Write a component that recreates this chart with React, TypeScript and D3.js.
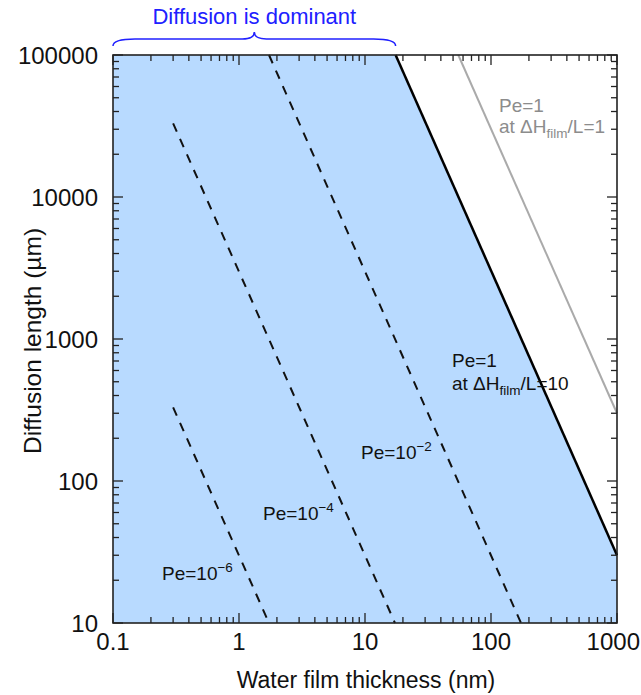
import React from "react";
import * as d3 from "d3";

// ---- data ----
const xTickValues = [0.1, 1, 10, 100, 1000];
const xTickLabels = ["0.1", "1", "10", "100", "1000"];
const yTickValues = [10, 100, 1000, 10000, 100000];
const yTickLabels = ["10", "100", "1000", "10000", "100000"];

// Pe = 1 at ΔHfilm/L = 10 (boundary of shaded region)
const boundaryH = [17.5, 1000];
const boundaryL = [100000, 30];
// Pe = 1 at ΔHfilm/L = 1 (grey)
const refH = [55, 1000];
const refL = [100000, 300];
// dashed Pe lines
const peExponents = ["−2", "−4", "−6"];
const peH = [
  [1.73, 173],
  [0.3, 17.3],
  [0.3, 1.73],
];
const peL = [
  [100000, 10],
  [33000, 10],
  [330, 10],
];

const W = 641;
const H = 695;
const plotLeft = 113;
const plotRight = 617;
const plotTop = 55;
const plotBottom = 623;
const FONT = "'Liberation Sans', Arial, Helvetica, sans-serif";

export default function App() {
  const x = d3.scaleLog().domain([0.1, 1000]).range([plotLeft, plotRight]);
  const y = d3.scaleLog().domain([10, 100000]).range([plotBottom, plotTop]);
  const line = d3
    .line<[number, number]>()
    .x((d) => x(d[0]))
    .y((d) => y(d[1]));

  const xd = x.domain();
  const yd = y.domain();
  const fillPts: [number, number][] = [
    [xd[0], yd[1]],
    [boundaryH[0], boundaryL[0]],
    [boundaryH[1], boundaryL[1]],
    [xd[1], yd[0]],
    [xd[0], yd[0]],
  ];

  const minorX: number[] = [];
  for (let i = 0; i < xTickValues.length - 1; i++)
    for (let k = 2; k <= 9; k++) minorX.push(xTickValues[i] * k);
  const minorY: number[] = [];
  for (let i = 0; i < yTickValues.length - 1; i++)
    for (let k = 2; k <= 9; k++) minorY.push(yTickValues[i] * k);

  const MAJ = 10;
  const MIN = 6;
  const TICK_FS = 24;

  const bx0 = x(xd[0]);
  const bx1 = x(boundaryH[0]);
  const bm = (bx0 + bx1) / 2;
  const yEnd = 46,
    yLine = 39,
    yTip = 32;
  const brace = `M${bx0},${yEnd} Q${bx0},${yLine} ${bx0 + 22},${yLine} L${bm - 12},${yLine} Q${bm},${yLine} ${bm},${yTip} Q${bm},${yLine} ${bm + 12},${yLine} L${bx1 - 22},${yLine} Q${bx1},${yLine} ${bx1},${yEnd}`;

  const peLabelPos = [
    [361, 459],
    [263, 520],
    [162, 580],
  ];

  const labelX = (v: number, s: string) => {
    const half = (s.length * 0.556 * TICK_FS) / 2;
    return Math.min(x(v), W - half - 1);
  };

  return (
    <svg
      width={W}
      height={H}
      style={{ position: "absolute", left: 0, top: 0, background: "#fff" }}
      fontFamily={FONT}
    >
      <path d={line(fillPts as any) + "Z"} fill="#b8daff" />
      {/* dashed lines */}
      {peH.map((hs, i) => (
        <path
          key={i}
          d={line(hs.map((h, j) => [h, peL[i][j]]) as any) || ""}
          fill="none"
          stroke="#111"
          strokeWidth={2}
          strokeDasharray="9,8"
        />
      ))}
      <path
        d={line(refH.map((h, j) => [h, refL[j]]) as any) || ""}
        stroke="#aaa"
        strokeWidth={2}
        fill="none"
      />
      <path
        d={line(boundaryH.map((h, j) => [h, boundaryL[j]]) as any) || ""}
        stroke="#000"
        strokeWidth={2.5}
        fill="none"
      />
      {/* ticks */}
      <g stroke="#222" strokeWidth={1.3}>
        {xTickValues.map((v) => (
          <g key={"xm" + v}>
            <line x1={x(v)} x2={x(v)} y1={plotBottom} y2={plotBottom - MAJ} />
            <line x1={x(v)} x2={x(v)} y1={plotTop} y2={plotTop + MAJ} />
          </g>
        ))}
        {minorX.map((v) => (
          <g key={"xn" + v}>
            <line x1={x(v)} x2={x(v)} y1={plotBottom} y2={plotBottom - MIN} />
            <line x1={x(v)} x2={x(v)} y1={plotTop} y2={plotTop + MIN} />
          </g>
        ))}
        {yTickValues.map((v) => (
          <g key={"ym" + v}>
            <line y1={y(v)} y2={y(v)} x1={plotLeft} x2={plotLeft + MAJ} />
            <line y1={y(v)} y2={y(v)} x1={plotRight} x2={plotRight - MAJ} />
          </g>
        ))}
        {minorY.map((v) => (
          <g key={"yn" + v}>
            <line y1={y(v)} y2={y(v)} x1={plotLeft} x2={plotLeft + MIN} />
            <line y1={y(v)} y2={y(v)} x1={plotRight} x2={plotRight - MIN} />
          </g>
        ))}
      </g>
      <rect
        x={plotLeft}
        y={plotTop}
        width={plotRight - plotLeft}
        height={plotBottom - plotTop}
        fill="none"
        stroke="#222"
        strokeWidth={1.6}
      />
      {/* tick labels */}
      <g fontSize={TICK_FS} fill="#111">
        {xTickValues.map((v, i) => (
          <text key={"xl" + v} x={labelX(v, xTickLabels[i])} y={plotBottom + 27} textAnchor="middle">
            {xTickLabels[i]}
          </text>
        ))}
        {yTickValues.map((v, i) => (
          <text key={"yl" + v} x={plotLeft - 15} y={y(v) + 8.5} textAnchor="end">
            {yTickLabels[i]}
          </text>
        ))}
      </g>
      <text x={(plotLeft + plotRight) / 2 + 1} y={688} textAnchor="middle" fontSize={23} fill="#111">
        Water film thickness (nm)
      </text>
      <text
        transform={`translate(41,${(plotTop + plotBottom) / 2 + 2}) rotate(-90)`}
        textAnchor="middle"
        fontSize={24.5}
        fill="#111"
      >
        Diffusion length (µm)
      </text>
      {/* brace + title */}
      <path d={brace} fill="none" stroke="#2020ff" strokeWidth={1.5} />
      <text x={bm} y={24} textAnchor="middle" fontSize={22} fill="#2020ff">
        Diffusion is dominant
      </text>
      {/* Pe labels */}
      <g fontSize={19} fill="#111">
        {peExponents.map((e, i) => (
          <text key={"pe" + i} x={peLabelPos[i][0]} y={peLabelPos[i][1]}>
            Pe=10
            <tspan fontSize={13.5} dy={-8}>
              {e}
            </tspan>
          </text>
        ))}
        <text x={452} y={367}>Pe=1</text>
        <text x={452} y={390}>
          at ΔH
          <tspan fontSize={13.5} dy={5}>film</tspan>
          <tspan dy={-5}>/L=10</tspan>
        </text>
      </g>
      <g fontSize={19} fill="#8c8c8c">
        <text x={499} y={112}>Pe=1</text>
        <text x={499} y={133}>
          at ΔH
          <tspan fontSize={13.5} dy={5}>film</tspan>
          <tspan dy={-5}>/L=1</tspan>
        </text>
      </g>
    </svg>
  );
}
